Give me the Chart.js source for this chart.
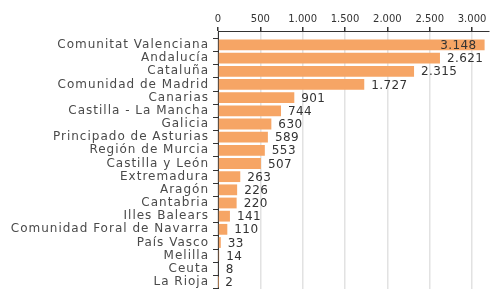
<!DOCTYPE html>
<html>
<head>
<meta charset="utf-8">
<script src="https://cdn.jsdelivr.net/npm/chart.js@4/dist/chart.umd.min.js"></script>
<style>
  html, body { margin: 0; padding: 0; background: #fff; }
  #wrap { width: 490px; height: 289px; }
</style>
</head>
<body>
<div id="wrap"><canvas id="chart" width="490" height="289"></canvas></div>
<script>
const regions = ['Comunitat Valenciana', 'Andalucía', 'Cataluña', 'Comunidad de Madrid', 'Canarias',
  'Castilla - La Mancha', 'Galicia', 'Principado de Asturias', 'Región de Murcia', 'Castilla y León',
  'Extremadura', 'Aragón', 'Cantabria', 'Illes Balears', 'Comunidad Foral de Navarra', 'País Vasco',
  'Melilla', 'Ceuta', 'La Rioja'];
const counts = [3148, 2621, 2315, 1727, 901, 744, 630, 589, 553, 507, 263, 226, 220, 141, 110, 33, 14, 8, 2];
const xTicks = [0, 500, 1000, 1500, 2000, 2500, 3000];

function fmt(n) { return String(n).replace(/\B(?=(\d{3})+(?!\d))/g, '.'); }

// value labels at the end of each bar
const valueLabels = {
  id: 'valueLabels',
  afterLayout(chart) {
    // the region names are drawn a bit spaced out, like the original
    const y = chart.scales.y;
    if (y._spaced) return;
    const orig = y.drawLabels.bind(y);
    y.drawLabels = function (area) {
      chart.ctx.save();
      chart.ctx.letterSpacing = '1px';
      orig(area);
      chart.ctx.restore();
    };
    y._spaced = true;
  },
  afterDatasetsDraw(chart) {
    const ctx = chart.ctx, area = chart.chartArea;
    ctx.save();
    ctx.font = '12px "DejaVu Sans"';
    ctx.letterSpacing = '0.4px';
    ctx.fillStyle = '#333';
    ctx.textBaseline = 'middle';
    chart.getDatasetMeta(0).data.forEach((bar, i) => {
      const txt = fmt(counts[i]);
      const w = ctx.measureText(txt).width;
      if (bar.x + 7 + w > area.right) { ctx.textAlign = 'right'; ctx.fillText(txt, bar.x - 8, bar.y + 1); }
      else { ctx.textAlign = 'left'; ctx.fillText(txt, bar.x + 7, bar.y + 1); }
    });
    ctx.restore();
  }
};

new Chart(document.getElementById('chart'), {
  type: 'bar',
  data: {
    datasets: [{
      data: counts.map((v, i) => ({ x: v, y: i })),
      backgroundColor: '#F6A565',
      categoryPercentage: 1,
      barPercentage: 0.82
    }]
  },
  options: {
    indexAxis: 'y',
    responsive: false,
    animation: false,
    layout: { padding: { top: 0, right: 1, bottom: 0, left: 0 } },
    plugins: { legend: { display: false }, tooltip: { enabled: false } },
    scales: {
      x: {
        position: 'top',
        min: 0, max: 3200,
        afterBuildTicks: s => { s.ticks = xTicks.map(v => ({ value: v })); },
        afterFit: s => { s.height = 31; s.paddingLeft = 0; s.paddingRight = 0; },
        grid: { color: '#e2e2e2', lineWidth: 1.5, tickColor: '#333', tickLength: 4 },
        border: { color: '#333', width: 1 },
        ticks: { padding: 2, color: '#333', font: { family: 'DejaVu Sans', size: 10 }, callback: v => fmt(v) }
      },
      y: {
        type: 'linear',
        reverse: true,
        offset: false,
        min: -1.06, max: 18.53,
        afterBuildTicks: s => { s.ticks = regions.map((r, i) => ({ value: i })); },
        afterFit: s => { s.width = 218; s.paddingTop = 0; s.paddingBottom = 0; },
        grid: { drawOnChartArea: false, tickColor: '#333', tickLength: 5 },
        border: { color: '#333', width: 1 },
        ticks: { padding: 4, color: '#4a4a4a', autoSkip: false, font: { family: 'DejaVu Sans', size: 12 }, callback: v => regions[v] }
      }
    }
  },
  plugins: [valueLabels]
});
</script>
</body>
</html>
